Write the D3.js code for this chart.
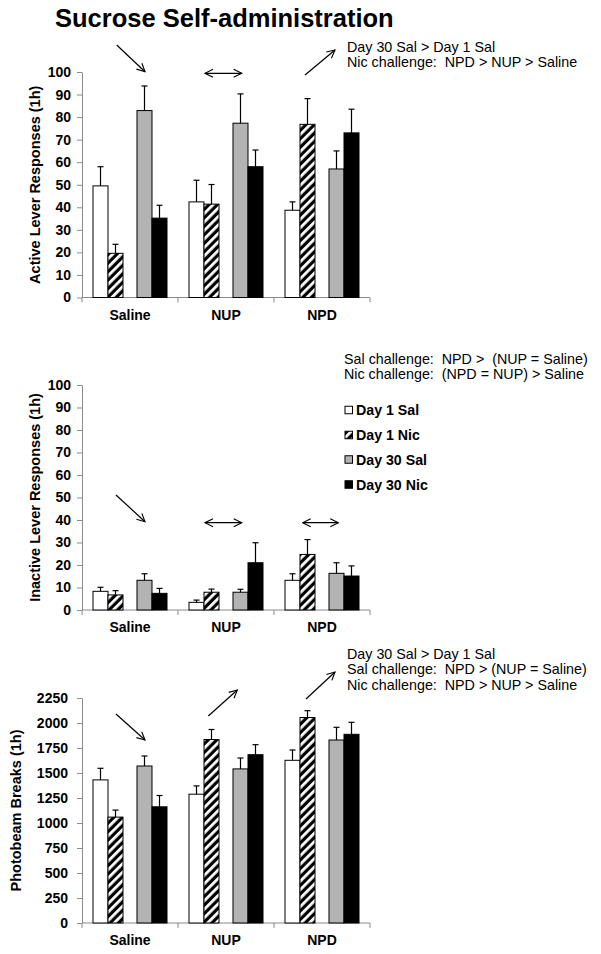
<!DOCTYPE html>
<html><head><meta charset="utf-8">
<script src="https://cdn.jsdelivr.net/npm/d3@7"></script>
<style>
body{margin:0;background:#fff}
svg{display:block}
text{font-family:"Liberation Sans",Arial,sans-serif;fill:#000}
</style>
</head><body><svg id="c" width="601" height="954"></svg>
<script>
// ---------------- data ----------------
const groups = ["Saline", "NUP", "NPD"];
const seriesNames = ["Day 1 Sal", "Day 1 Nic", "Day 30 Sal", "Day 30 Nic"];
const days = ["Day 1", "Day 30"];
const challenges = ["Sal", "Nic"];

// rows = groups, columns = series
const activeMeans = [[49.5, 19.6, 82.9, 35.2], [42.4, 41.4, 77.3, 58.0], [38.7, 76.8, 57.0, 73.0]];
const activeSEM   = [[8.5, 4.0, 10.9, 5.7],   [9.6, 8.7, 13.0, 7.4],    [3.7, 11.4, 8.0, 10.5]];

const inactiveMeans = [[8.3, 6.7, 13.2, 7.4], [3.4, 7.9, 7.9, 21.0], [13.2, 24.7, 16.3, 15.1]];
const inactiveSEM   = [[1.8, 1.9, 2.9, 2.2],  [1.0, 1.4, 1.3, 8.9],  [2.9, 6.6, 4.7, 4.5]];

const photoMeans = [[1431, 1059, 1570, 1162], [1288, 1835, 1541, 1683], [1627, 2055, 1830, 1887]];
const photoSEM   = [[116, 70, 100, 113],      [83, 100, 109, 100],      [103, 68, 127, 120]];

const leverTicks = [0, 10, 20, 30, 40, 50, 60, 70, 80, 90, 100];
const photoTicks = [0, 250, 500, 750, 1000, 1250, 1500, 1750, 2000, 2250];

const titleText = "Sucrose Self-administration";
const activeNotes = ["Day 30 Sal > Day 1 Sal", "Nic challenge:  NPD > NUP > Saline"];
const inactiveNotes = ["Sal challenge:  NPD >  (NUP = Saline)", "Nic challenge:  (NPD = NUP) > Saline"];
const photoNotes = ["Day 30 Sal > Day 1 Sal", "Sal challenge:  NPD > (NUP = Saline)", "Nic challenge:  NPD > NUP > Saline"];

// ---------------- layout ----------------
const svg = d3.select("#c");
const fills = ["#ffffff", "url(#hatch)", "#b3b3b3", "#000000"];
const axisGray = "#8a8a8a";

const defs = svg.append("defs");
const pat = defs.append("pattern").attr("id", "hatch")
  .attr("patternUnits", "userSpaceOnUse").attr("width", 6).attr("height", 6)
  .attr("patternTransform", "rotate(45)");
pat.append("rect").attr("width", 6).attr("height", 6).attr("fill", "#000");
pat.append("rect").attr("width", 2.8).attr("height", 6).attr("fill", "#fff");

const mk = defs.append("marker").attr("id", "ah")
  .attr("viewBox", "0 0 10 10").attr("refX", 9).attr("refY", 5)
  .attr("markerWidth", 10).attr("markerHeight", 10)
  .attr("markerUnits", "userSpaceOnUse").attr("orient", "auto-start-reverse");
mk.append("path").attr("d", "M1,1 L9,5 L1,9").attr("fill", "none")
  .attr("stroke", "#000").attr("stroke-width", 1.1);

const x = d3.scaleBand().domain(groups).range([82, 370]);
const xDay = d3.scaleBand().domain(days).range([0, x.bandwidth()])
  .paddingInner(0.318).paddingOuter(0.25);
const xCh = d3.scaleBand().domain(challenges).range([0, xDay.bandwidth()]);
const barX = (gi, si) => x(groups[gi]) + xDay(days[Math.floor(si / 2)]) + xCh(challenges[si % 2]);

// title
svg.append("text").attr("x", 55).attr("y", 27)
  .style("font-size", "25.5px").style("font-weight", "bold").text(titleText);

const panels = [
  {means: activeMeans, sem: activeSEM, ticks: leverTicks, max: 100, y0: 297.5, y1: 72,
   label: "Active Lever Responses (1h)", labelX: 35, pad: 6},
  {means: inactiveMeans, sem: inactiveSEM, ticks: leverTicks, max: 100, y0: 610, y1: 385,
   label: "Inactive Lever Responses (1h)", labelX: 35, pad: 6},
  {means: photoMeans, sem: photoSEM, ticks: photoTicks, max: 2250, y0: 923, y1: 698,
   label: "Photobeam Breaks (1h)", labelX: 15.5, pad: 9}
];

panels.forEach(p => {
  const y = d3.scaleLinear().domain([0, p.max]).range([p.y0, p.y1]);
  const g = svg.append("g");

  // y axis
  const ax = g.append("g").attr("transform", `translate(${x.range()[0]},0)`)
    .call(d3.axisLeft(y).tickValues(p.ticks).tickFormat(d3.format("d"))
      .tickSize(5).tickSizeOuter(0).tickPadding(p.pad));
  ax.select(".domain").attr("stroke", axisGray);
  ax.selectAll(".tick line").attr("stroke", axisGray);
  ax.selectAll(".tick text").style("font-size", "14px").style("font-weight", "bold")
    .style("font-family", "'Liberation Sans', Arial, sans-serif").attr("fill", "#000");

  // x axis line + category separators
  g.append("line").attr("x1", x.range()[0]).attr("x2", x.range()[1])
    .attr("y1", y(0)).attr("y2", y(0)).attr("stroke", axisGray);
  const bounds = groups.map(d => x(d)).concat([x.range()[1]]);
  g.selectAll(".sep").data(bounds).join("line")
    .attr("x1", d => d).attr("x2", d => d).attr("y1", y(0)).attr("y2", y(0) + 5)
    .attr("stroke", axisGray);
  g.selectAll(".cat").data(groups).join("text")
    .attr("x", d => x(d) + x.bandwidth() / 2).attr("y", y(0) + 22)
    .attr("text-anchor", "middle").style("font-size", "14px").style("font-weight", "bold")
    .text(d => d);

  // axis title
  g.append("text").attr("transform", `translate(${p.labelX},${(p.y0 + p.y1) / 2}) rotate(-90)`)
    .attr("text-anchor", "middle").attr("dy", "0.35em")
    .style("font-size", "14.5px").style("font-weight", "bold").text(p.label);

  // bars
  const cells = [];
  p.means.forEach((row, gi) => row.forEach((v, si) => cells.push({gi, si, v, e: p.sem[gi][si]})));
  g.selectAll(".bar").data(cells).join("rect")
    .attr("x", d => barX(d.gi, d.si)).attr("width", xCh.bandwidth())
    .attr("y", d => y(d.v)).attr("height", d => y(0) - y(d.v))
    .attr("fill", d => fills[d.si]).attr("stroke", "#000").attr("stroke-width", 1);

  // error bars
  const cx = d => barX(d.gi, d.si) + xCh.bandwidth() / 2;
  g.selectAll(".ev").data(cells).join("line")
    .attr("x1", cx).attr("x2", cx).attr("y1", d => y(d.v)).attr("y2", d => y(d.v + d.e))
    .attr("stroke", "#000").attr("stroke-width", 1.2);
  g.selectAll(".ec").data(cells).join("line")
    .attr("x1", d => cx(d) - 3).attr("x2", d => cx(d) + 3)
    .attr("y1", d => y(d.v + d.e)).attr("y2", d => y(d.v + d.e))
    .attr("stroke", "#000").attr("stroke-width", 1.2);
});

// annotation arrows
const arrows = [
  [116.7, 45, 145, 71.7, false], [205, 73.3, 241.7, 73.3, true], [305, 75, 335, 50, false],
  [116, 495, 145, 521.7, false], [205, 522.7, 241.7, 522.7, true], [302.7, 522.7, 338.3, 522.7, true],
  [116, 714, 145, 740, false], [208.3, 716, 237.3, 690, false], [306, 699, 335, 672, false]
];
svg.selectAll(".arr").data(arrows).join("line")
  .attr("x1", d => d[0]).attr("y1", d => d[1]).attr("x2", d => d[2]).attr("y2", d => d[3])
  .attr("stroke", "#000").attr("stroke-width", 1.2)
  .attr("marker-end", "url(#ah)")
  .attr("marker-start", d => d[4] ? "url(#ah)" : null);

// notes
function notes(lines, x0, yb) {
  svg.append("g").selectAll("text").data(lines).join("text")
    .attr("x", x0).attr("y", (d, i) => yb + i * 15.3)
    .style("font-size", "14.3px").style("white-space", "pre").text(d => d);
}
notes(activeNotes, 347, 52);
notes(inactiveNotes, 344, 364);
notes(photoNotes, 347, 659);

// legend
const lg = svg.append("g");
const ly = [410, 435, 459.5, 484.5];
lg.selectAll("rect").data(seriesNames).join("rect")
  .attr("x", 345).attr("y", (d, i) => ly[i] - 3.75).attr("width", 7.5).attr("height", 7.5)
  .attr("fill", (d, i) => fills[i]).attr("stroke", "#000").attr("stroke-width", 1);
lg.selectAll("text").data(seriesNames).join("text")
  .attr("x", 356).attr("y", (d, i) => ly[i] + 5)
  .style("font-size", "14.2px").style("font-weight", "bold").text(d => d);
</script>
</body></html>
